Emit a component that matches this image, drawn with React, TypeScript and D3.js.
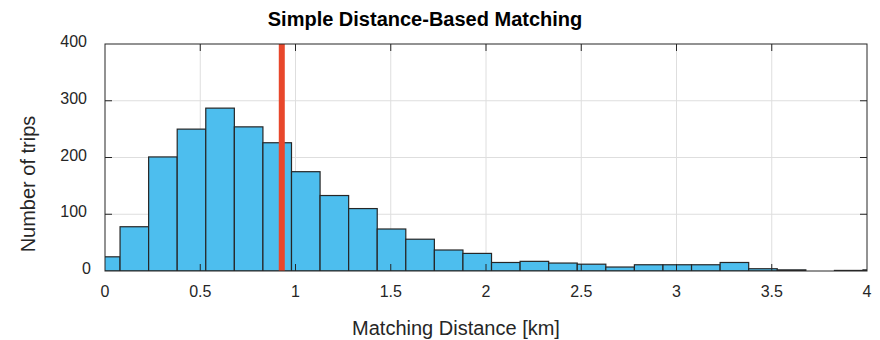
import { useEffect, useRef } from 'react'
import * as d3 from 'd3'

// histogram bin edges (km) and counts
const BIN_EDGES = [
  -0.071, 0.079, 0.229, 0.379, 0.529, 0.679, 0.829, 0.979, 1.129, 1.279,
  1.429, 1.579, 1.729, 1.879, 2.029, 2.179, 2.329, 2.479, 2.629, 2.779,
  2.929, 3.079, 3.229, 3.379, 3.529, 3.679, 3.829, 3.979, 4.129,
]
const COUNTS = [
  25, 78, 201, 250, 287, 254, 226, 175, 133, 110,
  74, 56, 37, 31, 15, 17, 14, 12, 7, 11,
  11, 11, 15, 4, 2, 0, 1, 2,
]
const X_TICKS = [0, 0.5, 1, 1.5, 2, 2.5, 3, 3.5, 4]
const Y_TICKS = [0, 100, 200, 300, 400]
const THRESHOLD = 0.928

const W = 880
const H = 340
const FONT = '"Liberation Sans", Arial, Helvetica, sans-serif'

export default function App() {
  const svgRef = useRef<SVGSVGElement>(null)

  useEffect(() => {
    if (!svgRef.current) return
    const margin = { top: 44, right: 13, bottom: 69, left: 105 }
    const w = W - margin.left - margin.right
    const h = H - margin.top - margin.bottom

    const svg = d3.select(svgRef.current)
    svg.selectAll('*').remove()

    const x = d3.scaleLinear().domain([0, 4]).range([0, w])
    const y = d3.scaleLinear().domain([0, 400]).range([h, 0])

    svg.append('defs').append('clipPath').attr('id', 'plot-clip')
      .append('rect').attr('width', w).attr('height', h)

    const g = svg.append('g').attr('transform', `translate(${margin.left},${margin.top})`)

    g.append('rect').attr('width', w).attr('height', h).attr('fill', '#fff')

    // Grid
    g.append('g').selectAll('line').data(X_TICKS.slice(1, -1)).enter().append('line')
      .attr('x1', d => x(d)).attr('x2', d => x(d))
      .attr('y1', 0).attr('y2', h)
      .attr('stroke', '#dedede').attr('stroke-width', 1)
    g.append('g').selectAll('line').data(Y_TICKS.slice(1, -1)).enter().append('line')
      .attr('x1', 0).attr('x2', w)
      .attr('y1', d => y(d)).attr('y2', d => y(d))
      .attr('stroke', '#dedede').attr('stroke-width', 1)

    // Bars
    const bins = COUNTS.map((c, i) => ({ x0: BIN_EDGES[i], x1: BIN_EDGES[i + 1], c }))
    g.append('g').attr('clip-path', 'url(#plot-clip)')
      .selectAll('rect').data(bins).enter().append('rect')
      .attr('x', d => x(d.x0))
      .attr('y', d => y(d.c))
      .attr('width', d => x(d.x1) - x(d.x0))
      .attr('height', d => y(0) - y(d.c))
      .attr('fill', '#4DBEEE')
      .attr('stroke', '#262626')
      .attr('stroke-width', 1.2)

    // Threshold line
    g.append('line')
      .attr('x1', x(THRESHOLD)).attr('x2', x(THRESHOLD))
      .attr('y1', 0).attr('y2', h)
      .attr('stroke', '#E8472B').attr('stroke-width', 6)

    // Box
    g.append('rect').attr('width', w).attr('height', h)
      .attr('fill', 'none').attr('stroke', '#262626').attr('stroke-width', 1)

    // Inward ticks on all four sides
    const tl = 7
    X_TICKS.slice(1, -1).forEach(t => {
      g.append('line').attr('x1', x(t)).attr('x2', x(t)).attr('y1', h).attr('y2', h - tl)
        .attr('stroke', '#262626')
      g.append('line').attr('x1', x(t)).attr('x2', x(t)).attr('y1', 0).attr('y2', tl)
        .attr('stroke', '#262626')
    })
    Y_TICKS.slice(1, -1).forEach(t => {
      g.append('line').attr('x1', 0).attr('x2', tl).attr('y1', y(t)).attr('y2', y(t))
        .attr('stroke', '#262626')
      g.append('line').attr('x1', w).attr('x2', w - tl).attr('y1', y(t)).attr('y2', y(t))
        .attr('stroke', '#262626')
    })

    // Tick labels
    g.append('g').selectAll('text').data(X_TICKS).enter().append('text')
      .attr('x', d => x(d)).attr('y', h + 26)
      .attr('text-anchor', 'middle')
      .attr('font-family', FONT).attr('font-size', '16px').attr('fill', '#262626')
      .text(d => String(d))
    g.append('g').selectAll('text').data(Y_TICKS).enter().append('text')
      .attr('x', d => (d === 0 ? -14 : -18)).attr('y', d => y(d) + 3)
      .attr('text-anchor', 'end')
      .attr('font-family', FONT).attr('font-size', '16px').attr('fill', '#262626')
      .text(d => String(d))

    // Axis labels + title
    svg.append('text')
      .attr('x', 456).attr('y', 335)
      .attr('text-anchor', 'middle')
      .attr('font-family', FONT).attr('font-size', '20px').attr('fill', '#262626')
      .text('Matching Distance [km]')
    svg.append('text')
      .attr('transform', 'translate(35,184) rotate(-90)')
      .attr('text-anchor', 'middle')
      .attr('font-family', FONT).attr('font-size', '20px').attr('fill', '#262626')
      .text('Number of trips')
    svg.append('text')
      .attr('x', 425).attr('y', 26)
      .attr('text-anchor', 'middle')
      .attr('font-family', FONT).attr('font-size', '20px').attr('font-weight', 'bold')
      .attr('fill', '#000')
      .text('Simple Distance-Based Matching')
  }, [])

  return (
    <svg ref={svgRef} width={W} height={H}
      style={{ position: 'absolute', left: 0, top: 0, display: 'block', background: '#fff' }} />
  )
}
